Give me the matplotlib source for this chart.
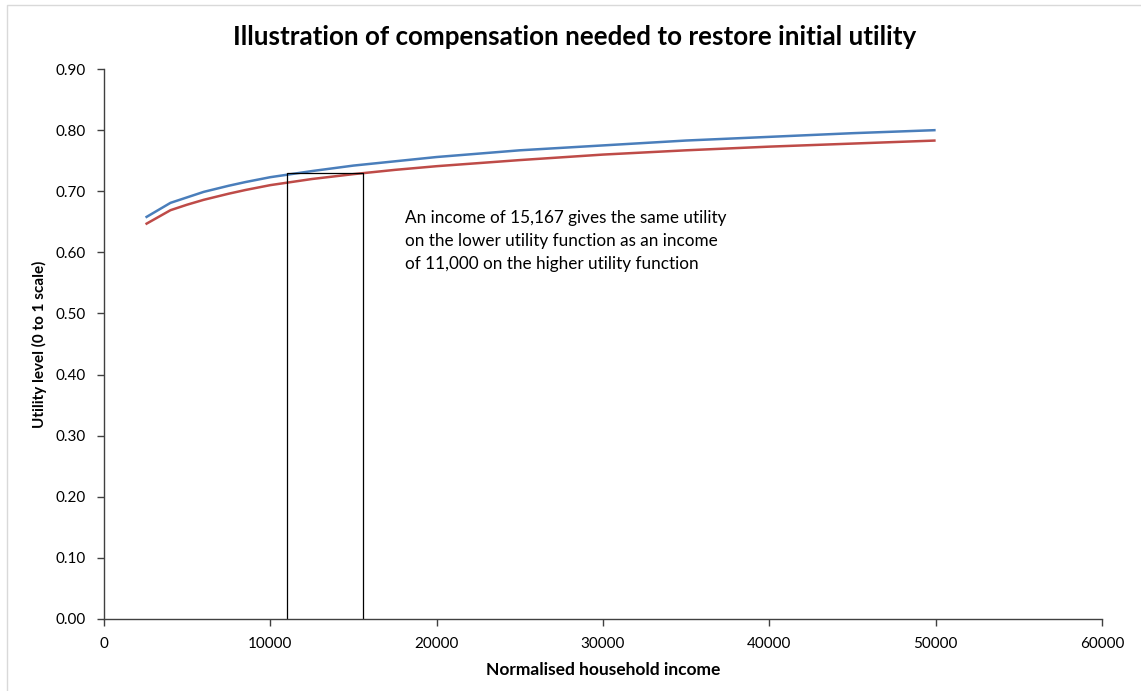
import matplotlib
matplotlib.use('Agg')
import matplotlib.pyplot as plt
from matplotlib.lines import Line2D

# values
income = [2500, 4000, 5000, 6000, 7500, 8500, 10000, 12500, 15000, 17500, 20000,
          25000, 30000, 35000, 40000, 45000, 50000]
utility_high = [0.657, 0.681, 0.690, 0.699, 0.709, 0.715, 0.723, 0.733, 0.742, 0.749, 0.756,
                0.767, 0.775, 0.783, 0.789, 0.795, 0.800]
utility_low = [0.646, 0.669, 0.678, 0.686, 0.696, 0.702, 0.710, 0.720, 0.728, 0.735, 0.741,
               0.751, 0.760, 0.767, 0.773, 0.778, 0.783]

income_before = 11000
income_after = 15600
utility_target = 0.730

note = ('An income of 15,167 gives the same utility\n'
        'on the lower utility function as an income\n'
        'of 11,000 on the higher utility function')

plt.rcParams['font.family'] = ['Lato', 'DejaVu Sans']

fig = plt.figure(figsize=(11.41, 6.91), dpi=100)
ax = fig.add_axes([0.0911, 0.1042, 0.8747, 0.7959])

ax.plot(income, utility_high, color='#4A7EBB', lw=1.8, solid_capstyle='butt', solid_joinstyle='round')
ax.plot(income, utility_low, color='#BE4B48', lw=1.8, solid_capstyle='butt', solid_joinstyle='round')

# compensation box
ax.plot([income_before, income_before, income_after, income_after],
        [0, utility_target, utility_target, 0], color='black', lw=0.9)

ax.text(18100, 0.669, note, fontsize=12.3, va='top', ha='left', linespacing=1.55)

ax.set_xlim(0, 60000)
ax.set_ylim(0, 0.9)
ax.set_xticks(range(0, 60001, 10000))
ax.set_yticks([i / 10 for i in range(10)])
ax.set_yticklabels([f'{i / 10:.2f}' for i in range(10)])
ax.tick_params(labelsize=11, direction='out', length=5, color='#404040', width=1)
ax.tick_params(axis='x', pad=8)
ax.tick_params(axis='y', pad=8)
for s in ['top', 'right']:
    ax.spines[s].set_visible(False)
for s in ['left', 'bottom']:
    ax.spines[s].set_color('#404040')
    ax.spines[s].set_linewidth(1)

ax.set_xlabel('Normalised household income', fontsize=12.5, fontweight='bold', labelpad=8)
ax.set_ylabel('Utility level (0 to 1 scale)', fontsize=11, fontweight='bold', labelpad=6)
fig.text(0.504, 0.946, 'Illustration of compensation needed to restore initial utility',
         ha='center', va='center', fontsize=18.7, fontweight='bold')

# chart area border (only left and top visible in the crop)
fig.add_artist(Line2D([0.0061, 0.0061, 1.0], [0.0, 0.9928, 0.9928], color='#D9D9D9', lw=1))

fig.savefig('out.png', dpi=100)
